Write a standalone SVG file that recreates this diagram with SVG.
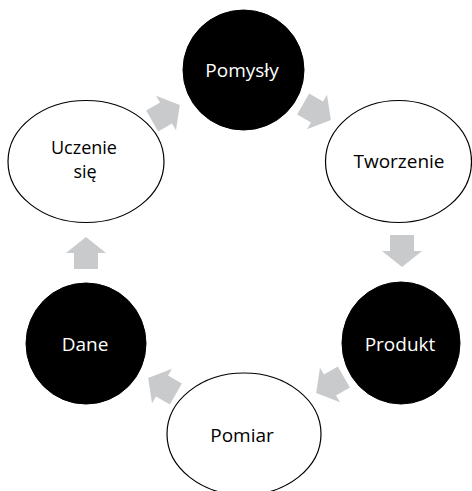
<svg xmlns="http://www.w3.org/2000/svg" width="472" height="491" viewBox="0 0 472 491">
<style>
.dark{fill:#000;stroke:#000;stroke-width:1}
.light{fill:#fff;stroke:#000;stroke-width:1.2}
.t{font-family:"Open Sans","Noto Sans",sans-serif;font-size:19px;text-anchor:middle}
.tw{fill:#fff}
.tb{fill:#000}
.arr{fill:#c9cacc}
</style>
<defs>
<path id="arrow" d="M-16,-12 L0,-12 L0,-20 L16,0 L0,20 L0,12 L-16,12 Z"/>
</defs>
<rect width="472" height="491" fill="#fff"/>
<g id="connectors">
<use href="#arrow" class="arr" transform="translate(317,112) rotate(30)"/>
<use href="#arrow" class="arr" transform="translate(402,251) rotate(90)"/>
<use href="#arrow" class="arr" transform="translate(330,385) rotate(150)"/>
<use href="#arrow" class="arr" transform="translate(162,386) rotate(210)"/>
<use href="#arrow" class="arr" transform="translate(86,253) rotate(270)"/>
<use href="#arrow" class="arr" transform="translate(166,113) rotate(330)"/>
</g>
<g id="node-pomysly">
<ellipse class="dark" cx="243.5" cy="70" rx="60.5" ry="60"/>
<text class="t tw" x="242" y="77">Pomysły</text>
</g>
<g id="node-tworzenie">
<ellipse class="light" cx="398.5" cy="161.5" rx="73" ry="61"/>
<text class="t tb" x="399" y="168">Tworzenie</text>
</g>
<g id="node-produkt">
<ellipse class="dark" cx="401" cy="343" rx="59" ry="61"/>
<text class="t tw" x="400" y="351">Produkt</text>
</g>
<g id="node-pomiar">
<ellipse class="light" cx="244" cy="434" rx="77" ry="61"/>
<text class="t tb" x="242" y="442">Pomiar</text>
</g>
<g id="node-dane">
<ellipse class="dark" cx="86" cy="343.5" rx="60" ry="60.5"/>
<text class="t tw" x="85" y="351">Dane</text>
</g>
<g id="node-uczenie">
<ellipse class="light" cx="86" cy="161.5" rx="78" ry="61"/>
<text class="t tb" x="84" y="154" style="font-size:18px">Uczenie</text>
<text class="t tb" x="85" y="178" style="font-size:18px">się</text>
</g>
</svg>
